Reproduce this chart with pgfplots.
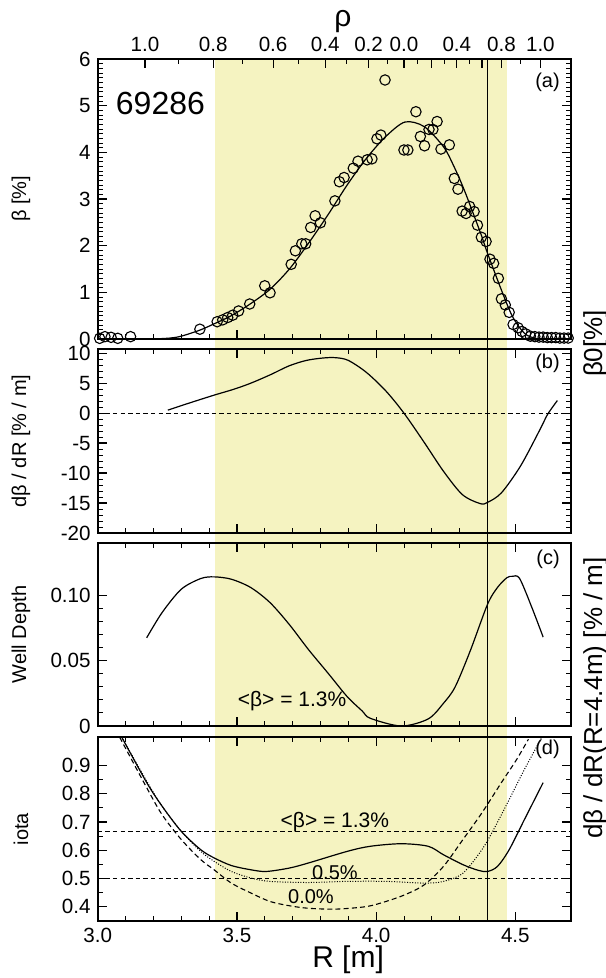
\documentclass[border=0pt]{standalone}
\usepackage{fontspec}
\setmainfont{Liberation Sans}
\usepackage{pgfplots}
\pgfplotsset{compat=1.18}
\definecolor{band}{RGB}{245,243,193}

\pgfplotsset{
  panel/.style={
    scale only axis, width=236.65pt, xmin=3, xmax=4.7, anchor=north west,
    tick align=inside, axis line style={line width=0.9pt},
    major tick length=4.5pt, minor tick length=2.5pt,
    every tick/.append style={black, line width=0.6pt},
    every minor tick/.append style={black, line width=0.45pt},
    xtick={3,3.5,4,4.5}, minor x tick num=4, xticklabels={},
    tick label style={font=\fontsize{10.3}{12}\selectfont},
    /pgf/number format/assume math mode=true,
    ylabel style={at={(axis description cs:-0.162,0.5)}, anchor=center,
                  font=\fontsize{10}{12}\selectfont},
  },
  curve/.style={black, line width=0.6pt, smooth},
  ref/.style={black, line width=0.5pt, dash pattern=on 2.2pt off 1.6pt},
}

\begin{document}
\begin{tikzpicture}
\useasboundingbox (0,0) rectangle (302.5pt,-489pt);

% shaded rho<0.8 band and the R=4.4 m line, across all panels
\begin{axis}[scale only axis, width=236.65pt, height=431pt,
  at={(48.85pt,-29.5pt)}, anchor=north west,
  xmin=3, xmax=4.7, ymin=0, ymax=1, hide axis]
\addplot[draw=none, fill=band] coordinates {(3.42,1) (4.47,1)} \closedcycle;
\addplot[black, line width=0.6pt] coordinates {(4.4,0) (4.4,1)};
\end{axis}

% (a) beta profile
\begin{axis}[panel, height=140pt, at={(48.85pt,-29.5pt)},
  xtick pos=left,
  ymin=0, ymax=6, ytick={0,1,2,3,4,5,6}, yticklabels={0,1,2,3,4,5,6},
  minor y tick num=9, ylabel={β [\%]}]
\addplot[curve] coordinates {
 (3.20,0) (3.26,0.02) (3.30,0.06) (3.367,0.19) (3.42,0.33) (3.48,0.50)
 (3.55,0.76) (3.62,1.07) (3.69,1.51) (3.757,2.05) (3.827,2.66) (3.896,3.30)
 (3.965,3.87) (4.035,4.34) (4.104,4.65) (4.173,4.55) (4.242,4.12)
 (4.277,3.73) (4.312,3.26) (4.345,2.75) (4.38,2.19) (4.40,1.84)
 (4.45,1.05) (4.49,0.48) (4.533,0.12) (4.575,0.01) (4.62,0) (4.70,0)};
\addplot[only marks, mark=o, mark size=2.6pt,
  mark options={fill=white, draw=black, line width=0.55pt}] coordinates {
 (3.007,0.014) (3.026,0.05) (3.048,0.036) (3.072,0.014) (3.118,0.05)
 (3.367,0.21) (3.429,0.37) (3.449,0.41) (3.467,0.46) (3.485,0.51)
 (3.506,0.60) (3.546,0.75) (3.600,1.14) (3.619,0.99) (3.695,1.60)
 (3.710,1.89) (3.733,2.04) (3.747,2.04) (3.765,2.39) (3.781,2.64)
 (3.800,2.49) (3.852,2.96) (3.868,3.37) (3.885,3.46) (3.918,3.66)
 (3.935,3.81) (3.968,3.84) (3.985,3.86) (4.003,4.29) (4.017,4.37)
 (4.032,5.55) (4.100,4.05) (4.114,4.05) (4.143,4.87) (4.159,4.34)
 (4.174,4.14) (4.190,4.49) (4.204,4.49) (4.219,4.66) (4.233,4.07)
 (4.263,4.16) (4.281,3.44) (4.294,3.21) (4.309,2.74) (4.323,2.69)
 (4.336,2.84) (4.352,2.73) (4.364,2.44) (4.378,2.18) (4.395,2.09)
 (4.409,1.71) (4.422,1.62) (4.439,1.30) (4.450,0.86) (4.464,0.73)
 (4.478,0.57) (4.492,0.31) (4.510,0.24) (4.524,0.16) (4.537,0.11)
 (4.554,0.06) (4.570,0.05) (4.585,0.04) (4.600,0.04) (4.615,0.03)
 (4.630,0.03) (4.645,0.03) (4.660,0.02) (4.675,0.02) (4.690,0.02)};
\node[anchor=west, inner sep=0, font=\fontsize{16}{18}\selectfont]
  at (axis cs:3.064,5.05) {69286};
\node[anchor=north east, inner sep=0, font=\fontsize{10}{12}\selectfont]
  at (axis description cs:0.977,0.95) {(a)};
\end{axis}

% top rho axis
\begin{axis}[scale only axis, width=236.65pt, height=140pt,
  at={(48.85pt,-29.5pt)}, anchor=north west,
  xmin=3, xmax=4.7, ymin=0, ymax=1,
  axis x line*=top, axis y line=none, x axis line style={-, line width=0.9pt},
  tick align=inside, major tick length=4.5pt, minor tick length=2.5pt,
  every tick/.append style={black, line width=0.6pt},
  xtick={3.17,3.415,3.63,3.817,3.973,4.10,4.20,4.29,4.38,4.45,4.59},
  xticklabels={1.0,0.8,0.6,0.4,0.2,0.0,,0.4,,0.8,1.0},
  minor xtick={3.29,3.52,3.72,3.895,4.04,4.15,4.245,4.335,4.52},
  tick label style={font=\fontsize{10.3}{12}\selectfont},
  xlabel={ρ}, xlabel style={at={(axis description cs:0.518,1)}, anchor=center,
    yshift=18.75pt, font=\fontsize{15}{18}\selectfont}]
\addplot[draw=none] coordinates {(3,0) (4.7,1)};
\end{axis}

% (b) d beta / dR
\begin{axis}[panel, height=92pt, at={(48.85pt,-174.5pt)},
  ymin=-20, ymax=10.7, ytick={-20,-15,-10,-5,0,5,10},
  yticklabels={-20,-15,-10,-5,0,5,10}, minor y tick num=4,
  ylabel={dβ / dR [\% / m]}]
\addplot[ref] coordinates {(3,0) (4.7,0)};
\addplot[curve] coordinates {
 (3.252,0.5) (3.33,1.7) (3.418,3.0) (3.49,4.0) (3.55,5.0) (3.62,6.4)
 (3.688,7.9) (3.75,8.8) (3.81,9.2) (3.855,9.25) (3.90,8.8) (3.965,6.8)
 (4.035,3.7) (4.10,0) (4.173,-4.9) (4.242,-9.7) (4.31,-13.6)
 (4.374,-15.1) (4.40,-14.9) (4.45,-13.3) (4.519,-8.8) (4.589,-2.7)
 (4.616,-0.2) (4.651,2.1)};
\node[anchor=north east, inner sep=0, font=\fontsize{10}{12}\selectfont]
  at (axis description cs:0.977,0.975) {(b)};
\end{axis}

% (c) well depth
\begin{axis}[panel, height=91.5pt, at={(48.85pt,-271.5pt)},
  ymin=0, ymax=0.14, ytick={0,0.05,0.1}, yticklabels={0,0.05,0.10},
  minor y tick num=4, ylabel={Well Depth}]
\addplot[curve] coordinates {
 (3.176,0.0675) (3.231,0.0867) (3.30,0.1046) (3.37,0.1128) (3.418,0.1141)
 (3.48,0.1123) (3.55,0.1059) (3.619,0.0944) (3.688,0.0777) (3.757,0.0585)
 (3.827,0.0405) (3.896,0.0225) (3.95,0.0115) (3.979,0.0059) (4.09,0)
 (4.187,0.0054) (4.242,0.0174) (4.284,0.030) (4.339,0.058) (4.40,0.093)
 (4.436,0.106) (4.47,0.1135) (4.49,0.1145) (4.515,0.113) (4.557,0.092)
 (4.60,0.068)};
\node[font=\fontsize{10.5}{12}\selectfont] at (axis cs:3.698,0.019) {<β> = 1.3\%};
\node[anchor=north east, inner sep=0, font=\fontsize{10}{12}\selectfont]
  at (axis description cs:0.977,0.965) {(c)};
\end{axis}

% (d) iota
\begin{axis}[panel, height=92pt, at={(48.85pt,-368.5pt)},
  ymin=0.35, ymax=1.0, ytick={0.4,0.5,0.6,0.7,0.8,0.9},
  yticklabels={0.4,0.5,0.6,0.7,0.8,0.9}, minor y tick num=1,
  xticklabels={3.0,3.5,4.0,4.5}, ylabel={iota},
  xlabel={R [m]}, xlabel style={at={(axis description cs:0.529,0)},
    anchor=center, yshift=-19.5pt, font=\fontsize{15}{18}\selectfont}]
\addplot[ref] coordinates {(3,0.6667) (4.7,0.6667)};
\addplot[ref] coordinates {(3,0.5) (4.7,0.5)};
% <beta> = 1.3 %
\addplot[curve] coordinates {
 (3.086,1.0) (3.176,0.839) (3.231,0.756) (3.30,0.667) (3.37,0.602)
 (3.418,0.573) (3.48,0.546) (3.55,0.531) (3.605,0.525) (3.688,0.537)
 (3.757,0.555) (3.896,0.596) (3.979,0.614) (4.09,0.623) (4.187,0.614)
 (4.242,0.584) (4.312,0.549) (4.367,0.529) (4.40,0.525) (4.436,0.543)
 (4.478,0.602) (4.533,0.709) (4.60,0.839)};
% 0.5 %
\addplot[black, line width=0.5pt, smooth, dash pattern=on 0.5pt off 0.8pt] coordinates {
 (3.086,1.0) (3.176,0.844) (3.231,0.756) (3.30,0.667) (3.37,0.596)
 (3.418,0.561) (3.48,0.525) (3.55,0.502) (3.619,0.490) (3.757,0.486)
 (3.896,0.490) (4.035,0.490) (4.173,0.484) (4.242,0.490) (4.312,0.519)
 (4.38,0.602) (4.422,0.673) (4.478,0.779) (4.533,0.886) (4.596,1.0)};
% 0.0 %
\addplot[black, line width=0.55pt, smooth, dash pattern=on 2.5pt off 1.6pt] coordinates {
 (3.079,0.999) (3.176,0.821) (3.231,0.726) (3.30,0.638) (3.37,0.567)
 (3.418,0.531) (3.48,0.484) (3.55,0.449) (3.619,0.419) (3.688,0.404)
 (3.757,0.395) (3.855,0.392) (3.965,0.401) (4.035,0.419) (4.104,0.443)
 (4.173,0.478) (4.242,0.543) (4.312,0.638) (4.38,0.732) (4.45,0.839)
 (4.505,0.921) (4.547,0.992)};
\node[font=\fontsize{10.5}{12}\selectfont] at (axis cs:3.852,0.698) {<β> = 1.3\%};
\node[font=\fontsize{10}{12}\selectfont] at (axis cs:3.852,0.52) {0.5\%};
\node[font=\fontsize{10}{12}\selectfont] at (axis cs:3.766,0.436) {0.0\%};
\node[anchor=north east, inner sep=0, font=\fontsize{10}{12}\selectfont]
  at (axis description cs:0.977,0.985) {(d)};
\end{axis}

% right-hand labels, partly running off the edge as in the original
\node[rotate=90, anchor=base, inner sep=0, font=\fontsize{13}{15}\selectfont]
  at (301pt,-171.75pt) {β0[\%]};
\node[rotate=90, anchor=base, inner sep=0, font=\fontsize{13}{15}\selectfont]
  at (301pt,-349pt) {dβ / dR(R=4.4m) [\% / m]};
\end{tikzpicture}
\end{document}
